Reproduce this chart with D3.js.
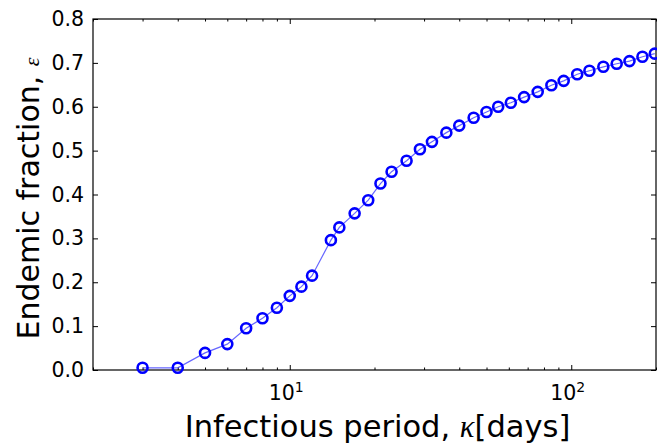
<!DOCTYPE html>
<html>
<head>
<meta charset="utf-8">
<script src="https://cdn.jsdelivr.net/npm/d3@7"></script>
<style>
  body { margin: 0; background: #fff; }
  svg { display: block; }
  .tick text { font-family: 'DejaVu Sans', sans-serif; font-size: 20.5px; fill: #000; }
</style>
</head>
<body>
<div id="chart"></div>
<script>
// infectious period (days) and endemic fraction
const kappa = [3, 4, 5, 6, 7, 8, 9, 10, 11, 12, 14, 15, 17, 19, 21, 23, 26, 29, 32, 36,
  40, 45, 50, 55, 61, 68, 76, 85, 94, 105, 116, 130, 145, 161, 179, 198]
const endemic = [0.005, 0.005, 0.039, 0.059, 0.095, 0.118, 0.142, 0.169, 0.19, 0.215,
  0.296, 0.325, 0.357, 0.387, 0.425, 0.452, 0.477, 0.503, 0.52, 0.541,
  0.557, 0.575, 0.588, 0.6, 0.609, 0.622, 0.634, 0.649, 0.659, 0.674,
  0.682, 0.691, 0.698, 0.704, 0.714, 0.721]
const yTicks = [0, 0.1, 0.2, 0.3, 0.4, 0.5, 0.6, 0.7, 0.8]
const xMajor = [10, 100]

const W = 657
const H = 444
const margin = { top: 19, left: 93, right: 1, bottom: 74 }
const width = W - margin.left - margin.right
const height = H - margin.top - margin.bottom

const data = kappa.map((k, i) => ({ k: k, e: endemic[i] }))

const svg = d3.select('#chart').append('svg')
  .attr('width', W)
  .attr('height', H)

const g = svg.append('g')
  .attr('transform', 'translate(' + margin.left + ',' + margin.top + ')')

const x = d3.scaleLog().domain([2, 200]).range([0, width])
const y = d3.scaleLinear().domain([0, 0.8]).range([height, 0])

// minor log ticks (everything that is not a decade)
const xMinor = x.ticks().filter(v => xMajor.indexOf(v) < 0)

// bottom axis
const xb = g.append('g')
  .attr('transform', 'translate(0,' + height + ')')
  .call(d3.axisBottom(x).tickValues(xMajor).tickSize(-5).tickFormat(''))
xb.selectAll('.tick text')
  .attr('y', 30)
  .attr('dy', null)
  .attr('dx', -4)
  .each(function (d) {
    const t = d3.select(this)
    t.append('tspan').text('10')
    t.append('tspan').attr('dy', -8).style('font-size', '14px')
      .text(Math.round(Math.log10(d)))
  })
g.append('g')
  .attr('transform', 'translate(0,' + height + ')')
  .call(d3.axisBottom(x).tickValues(xMinor).tickSize(-2.5).tickFormat(''))

// top axis
g.append('g')
  .call(d3.axisTop(x).tickValues(xMajor).tickSize(-5).tickFormat(''))
g.append('g')
  .call(d3.axisTop(x).tickValues(xMinor).tickSize(-2.5).tickFormat(''))

// left and right axes
g.append('g')
  .call(d3.axisLeft(y).tickValues(yTicks).tickSize(-5).tickPadding(9).tickFormat(d3.format('.1f')))
g.append('g')
  .attr('transform', 'translate(' + width + ',0)')
  .call(d3.axisRight(y).tickValues(yTicks).tickSize(-5).tickFormat(''))

g.selectAll('.domain').remove()
g.selectAll('.tick line').attr('stroke', '#000').attr('stroke-width', 1)

// frame
g.append('rect')
  .attr('width', width)
  .attr('height', height)
  .attr('fill', 'none')
  .attr('stroke', '#000')
  .attr('stroke-width', 1.2)

// the curve
const line = d3.line().x(d => x(d.k)).y(d => y(d.e))
g.append('path')
  .datum(data)
  .attr('d', line)
  .attr('fill', 'none')
  .attr('stroke', '#0000ff')
  .attr('stroke-opacity', 0.6)
  .attr('stroke-width', 1.2)

g.selectAll('.dot')
  .data(data)
  .enter()
  .append('circle')
  .attr('class', 'dot')
  .attr('cx', d => x(d.k))
  .attr('cy', d => y(d.e))
  .attr('r', 5)
  .attr('fill', 'none')
  .attr('stroke', '#0000ff')
  .attr('stroke-width', 2.6)

// axis labels
const xl = svg.append('text')
  .attr('x', margin.left + width / 2 + 3)
  .attr('y', 437)
  .attr('text-anchor', 'middle')
  .style('font-family', 'DejaVu Sans, sans-serif')
  .style('font-size', '30.5px')
xl.append('tspan').text('Infectious period, ')
xl.append('tspan').style('font-family', 'Liberation Serif, serif').style('font-style', 'italic').text('κ')
xl.append('tspan').text('[days]')

const yl = svg.append('text')
  .attr('transform', 'translate(39,' + (margin.top + height / 2 + 4) + ') rotate(-90)')
  .attr('text-anchor', 'middle')
  .style('font-family', 'DejaVu Sans, sans-serif')
  .style('font-size', '30px')
yl.append('tspan').text('Endemic fraction, ')
yl.append('tspan').style('font-family', 'Liberation Serif, serif').style('font-style', 'italic')
  .style('font-size', '22px').text('ε')
</script>
</body>
</html>
